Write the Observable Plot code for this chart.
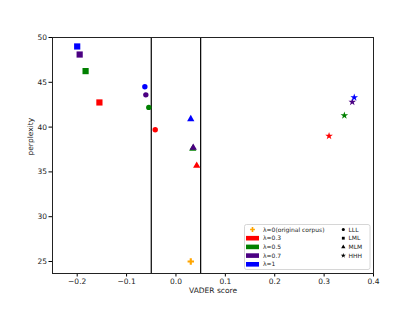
<!DOCTYPE html>
<html><head><meta charset="utf-8">
<script src="https://cdn.jsdelivr.net/npm/d3@7"></script>
<script src="https://cdn.jsdelivr.net/npm/@observablehq/plot@0.6"></script>
<style>body{margin:0;background:#fff}</style>
</head><body><div id="chart"></div>
<script>
const lambdas = ["λ=0.3", "λ=0.5", "λ=0.7", "λ=1"];
const lambdaColors = ["red", "green", "#4B0082", "blue"];
const shapes = ["LLL", "LML", "MLM", "HHH"];
const shapeSymbols = ["circle", "square", "triangle", "star"];
// values per lambda (0.3, 0.5, 0.7, 1)
const LLL_x = [-0.042, -0.055, -0.061, -0.063];
const LLL_y = [39.7, 42.2, 43.6, 44.5];
const LML_x = [-0.155, -0.183, -0.195, -0.200];
const LML_y = [42.75, 46.25, 48.1, 49.0];
const MLM_x = [0.042, 0.034, 0.035, 0.030];
const MLM_y = [35.7, 37.6, 37.7, 40.9];
const HHH_x = [0.310, 0.341, 0.357, 0.361];
const HHH_y = [39.0, 41.3, 42.8, 43.3];
const orig = {label: "λ=0(original corpus)", x: 0.03, y: 25.0, color: "orange"};
const neutralBounds = [-0.05, 0.05];
const xTicks = [-0.2, -0.1, 0.0, 0.1, 0.2, 0.3, 0.4];
const yTicks = [25, 30, 35, 40, 45, 50];

const series = {LLL: [LLL_x, LLL_y], LML: [LML_x, LML_y], MLM: [MLM_x, MLM_y], HHH: [HHH_x, HHH_y]};
const sizes = {LLL: 2.7, LML: 3.5, MLM: 2.7, HHH: 2.4, orig: 2.7};
const data = [];
shapes.forEach((s) => {
  lambdas.forEach((l, li) => {
    data.push({x: series[s][0][li], y: series[s][1][li], shape: s, color: lambdaColors[li], r: sizes[s]});
  });
});
data.push({x: orig.x, y: orig.y, shape: "orig", color: orig.color, r: sizes.orig});

const chart = Plot.plot({
  width: 415, height: 312,
  marginLeft: 52, marginRight: 42, marginTop: 37, marginBottom: 39,
  style: {fontFamily: "DejaVu Sans", fontSize: "7.5px", background: "white"},
  x: {domain: [-0.25, 0.4]},
  y: {domain: [23.66, 50]},
  color: {type: "identity"},
  r: {type: "identity"},
  symbol: {domain: [...shapes, "orig"], range: [...shapeSymbols, "cross"]},
  marks: [
    Plot.ruleX(neutralBounds, {stroke: "black", strokeWidth: 1.2}),
    Plot.dot(data, {x: "x", y: "y", fill: "color", symbol: "shape", r: "r", stroke: "none"}),
    Plot.axisX({ticks: xTicks, tickFormat: d3.format(".1f"), tickSize: 3.5, tickPadding: 2, label: null, fill: "#222"}),
    Plot.axisY({ticks: yTicks, tickSize: 3.5, tickPadding: 2, label: null, fill: "#222"}),
    Plot.text(["VADER score"], {frameAnchor: "bottom", dy: 19, text: d => d, fill: "#222"}),
    Plot.text(["perplexity"], {frameAnchor: "left", dx: -22, rotate: -90, text: d => d, fill: "#222"}),
    Plot.frame({stroke: "#222", strokeWidth: 1})
  ]
});
document.getElementById("chart").appendChild(chart);

// legend
const svg = d3.select(chart);
const g = svg.append("g").attr("font-family", "DejaVu Sans").attr("font-size", "6px").attr("fill", "#222").attr("text-anchor", "start");
g.append("rect").attr("x", 244.5).attr("y", 224.5).attr("width", 125.5).attr("height", 45).attr("rx", 2)
  .attr("fill", "white").attr("fill-opacity", 0.85).attr("stroke", "#ccc").attr("stroke-width", 0.8);
const rowY = i => 229.5 + i * 8.7;
const leftItems = [orig.label, ...lambdas];
const plus = d3.symbol(d3.symbolCross, 13)();
leftItems.forEach((t, i) => {
  if (i === 0) {
    g.append("path").attr("d", plus).attr("transform", `translate(252.5,${rowY(0)})`).attr("fill", orig.color);
  } else {
    g.append("rect").attr("x", 246).attr("y", rowY(i) - 2.3).attr("width", 13).attr("height", 4.6).attr("fill", lambdaColors[i - 1]);
  }
  g.append("text").attr("x", 263).attr("y", rowY(i)).attr("dy", "0.35em").text(t);
});
const d3sym = {circle: d3.symbolCircle, square: d3.symbolSquare, triangle: d3.symbolTriangle, star: d3.symbolStar};
shapes.forEach((s, i) => {
  g.append("path").attr("d", d3.symbol(d3sym[shapeSymbols[i]], 8)()).attr("transform", `translate(343.3,${rowY(i)})`).attr("fill", "black");
  g.append("text").attr("x", 348.5).attr("y", rowY(i)).attr("dy", "0.35em").text(s);
});
</script></body></html>
